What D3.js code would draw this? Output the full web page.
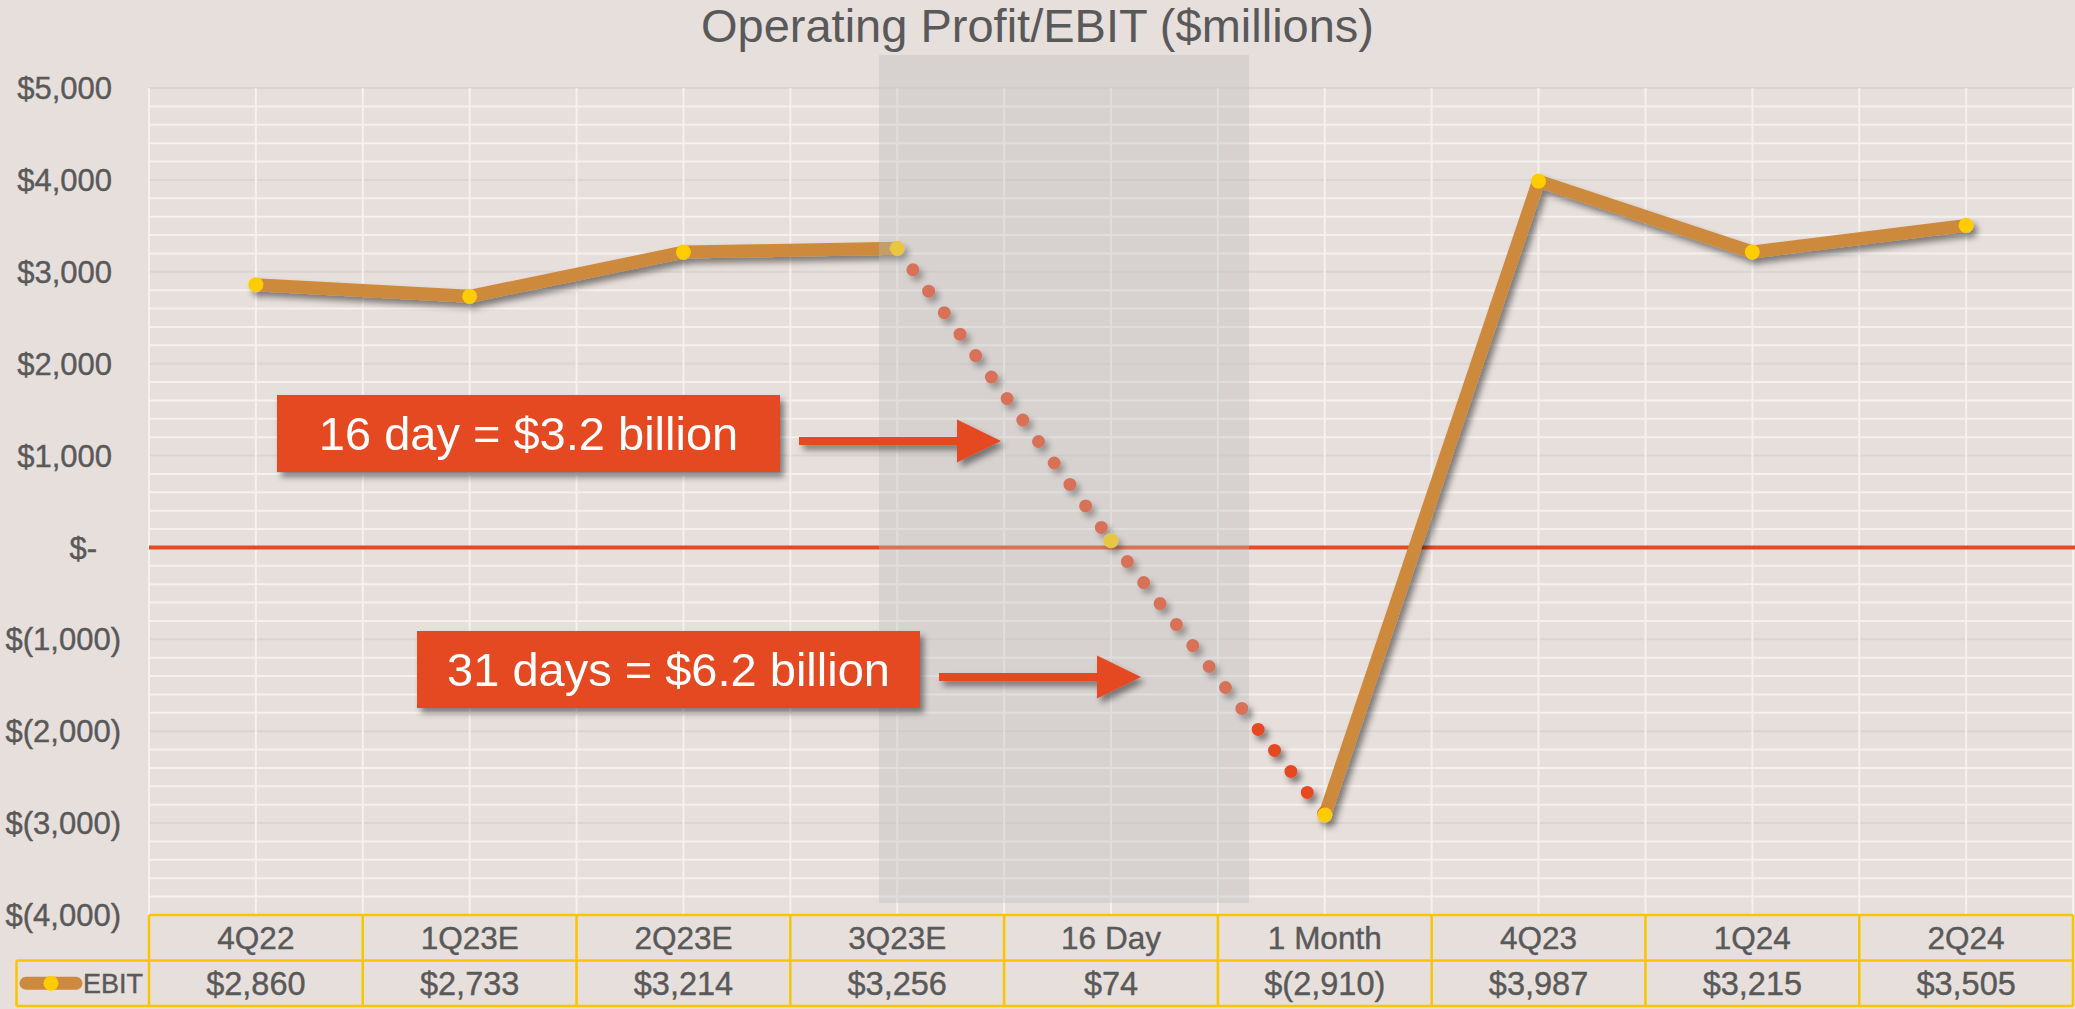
<!DOCTYPE html>
<html>
<head>
<meta charset="utf-8">
<script src="https://cdn.jsdelivr.net/npm/d3@7"></script>
<style>
  html, body { margin: 0; padding: 0; background: #e6dfdc; }
  svg { display: block; font-family: "Liberation Sans", Arial, sans-serif; }
</style>
</head>
<body>
<svg id="chart" width="2075" height="1009"></svg>
<script>
// chart values
var categories = ['4Q22', '1Q23E', '2Q23E', '3Q23E', '16 Day', '1 Month', '4Q23', '1Q24', '2Q24'];
var ebit = [2860, 2733, 3214, 3256, 74, -2910, 3987, 3215, 3505];
var seriesName = 'EBIT';
var yTickValues = [5000, 4000, 3000, 2000, 1000, 0, -1000, -2000, -3000, -4000];
// index ranges of the drawn pieces: solid, projected (dotted), solid
var solidRuns = [[0, 3], [5, 8]];
var dottedRuns = [[3, 4], [4, 5]];
var notes = ['16 day = $3.2 billion', '31 days = $6.2 billion'];

var W = 2075, H = 1009;
var plot = { left: 149, right: 2073, top: 88, bottom: 915 };
var rowH = 45.5;

var svg = d3.select('#chart');
var points = categories.map(function (c, i) { return { cat: c, v: ebit[i] }; });

var x = d3.scaleBand().domain(categories).range([plot.left, plot.right]).padding(0);
var y = d3.scaleLinear().domain([-4000, 5000]).range([plot.bottom, plot.top]);
var bw = x.bandwidth();
var cx = function (d) { return x(d.cat) + bw / 2; };

var money = function (v) {
    if (v === 0) { return '$-'; }
    var s = d3.format(',')(Math.abs(v));
    return v < 0 ? '$(' + s + ')' : '$' + s;
};

// shadow filter
var defs = svg.append('defs');
defs.append('filter')
    .attr('id', 'shadow')
    .attr('x', '-20%').attr('y', '-20%')
    .attr('width', '140%').attr('height', '140%')
    .append('feDropShadow')
    .attr('dx', 4).attr('dy', 5)
    .attr('stdDeviation', 3)
    .attr('flood-color', '#000')
    .attr('flood-opacity', 0.45);

svg.append('rect')
    .attr('width', W).attr('height', H)
    .style('fill', '#e6dfdc');

// grid
var grid = svg.append('g').classed('grid', true);
var minor = d3.range(-4000, 5001, 200).filter(function (v) { return v % 1000 !== 0; });
grid.selectAll('line.minor')
    .data(minor)
    .enter().append('line')
    .attr('x1', plot.left).attr('x2', plot.right)
    .attr('y1', y).attr('y2', y)
    .style('stroke', '#f4f1ef')
    .style('stroke-width', 2);

grid.selectAll('line.major')
    .data(yTickValues)
    .enter().append('line')
    .attr('x1', plot.left).attr('x2', plot.right)
    .attr('y1', y).attr('y2', y)
    .style('stroke', '#d9d5d3')
    .style('stroke-width', 2);

var vlines = [];
categories.forEach(function (c) { vlines.push(x(c), x(c) + bw / 2); });
vlines.push(plot.right);
grid.selectAll('line.v')
    .data(vlines)
    .enter().append('line')
    .attr('x1', function (d) { return d; }).attr('x2', function (d) { return d; })
    .attr('y1', plot.top).attr('y2', plot.bottom)
    .style('stroke', '#f4f1ef')
    .style('stroke-width', 2);

// zero line
svg.append('line')
    .attr('x1', plot.left).attr('x2', W)
    .attr('y1', y(0)).attr('y2', y(0))
    .style('stroke', '#e64a22')
    .style('stroke-width', 4);

// series
var line = d3.line().x(cx).y(function (d) { return y(d.v); });
var series = svg.append('g').attr('filter', 'url(#shadow)');

solidRuns.forEach(function (r) {
    series.append('path')
        .attr('d', line(points.slice(r[0], r[1] + 1)))
        .style('fill', 'none')
        .style('stroke', '#cd8a3e')
        .style('stroke-width', 13)
        .style('stroke-linejoin', 'round');
});

dottedRuns.forEach(function (r) {
    series.append('path')
        .attr('d', line(points.slice(r[0], r[1] + 1)))
        .style('fill', 'none')
        .style('stroke', '#e64a22')
        .style('stroke-width', 13)
        .style('stroke-linecap', 'round')
        .style('stroke-dasharray', '0 26.6');
});

series.selectAll('circle')
    .data(points)
    .enter().append('circle')
    .attr('cx', cx)
    .attr('cy', function (d) { return y(d.v); })
    .attr('r', 7.5)
    .style('fill', '#ffcc00');

// shaded window over the projected months
svg.append('rect')
    .attr('x', 879).attr('y', 55)
    .attr('width', 370).attr('height', 848)
    .style('fill', '#bcbcbc')
    .style('fill-opacity', 0.36);

// call-out boxes and arrows
var callouts = [
    { text: notes[0], x: 277, y: 395, w: 503, h: 77, ax1: 799, ax2: 1001, ay: 441 },
    { text: notes[1], x: 417, y: 631, w: 503, h: 77, ax1: 939, ax2: 1141, ay: 677 }
];
var ann = svg.append('g');
callouts.forEach(function (c) {
    var g = ann.append('g').attr('filter', 'url(#shadow)');
    g.append('rect')
        .attr('x', c.x).attr('y', c.y)
        .attr('width', c.w).attr('height', c.h)
        .style('fill', '#e54922');
    g.append('text')
        .attr('x', c.x + c.w / 2).attr('y', c.y + c.h / 2)
        .attr('dy', '0.36em')
        .attr('text-anchor', 'middle')
        .style('font-size', '47px')
        .style('fill', '#fff')
        .text(c.text);
    var head = 44, half = 21.5, t = 4;
    g.append('path')
        .attr('d', 'M' + c.ax1 + ',' + (c.ay - t) +
            'L' + (c.ax2 - head) + ',' + (c.ay - t) +
            'L' + (c.ax2 - head) + ',' + (c.ay - half) +
            'L' + c.ax2 + ',' + c.ay +
            'L' + (c.ax2 - head) + ',' + (c.ay + half) +
            'L' + (c.ax2 - head) + ',' + (c.ay + t) +
            'L' + c.ax1 + ',' + (c.ay + t) + 'Z')
        .style('fill', '#e54922');
});

// y axis labels (accounting style alignment)
svg.append('g').selectAll('text')
    .data(yTickValues)
    .enter().append('text')
    .attr('x', function (d) { return d < 0 ? 121 : (d === 0 ? 97 : 112); })
    .attr('y', y)
    .attr('dy', '0.36em')
    .attr('text-anchor', 'end')
    .style('font-size', '31px')
    .style('fill', '#595959')
    .style('stroke', '#595959')
    .style('stroke-width', 0.4)
    .text(money);

// data table
var table = svg.append('g');
var gold = '#f7c600';
var r1 = plot.bottom, r2 = r1 + rowH, r3 = r2 + rowH;
table.selectAll('text.cat')
    .data(points)
    .enter().append('text')
    .attr('x', cx).attr('y', r1 + rowH / 2)
    .attr('dy', '0.36em')
    .attr('text-anchor', 'middle')
    .style('font-size', '31.5px')
    .style('fill', '#595959')
    .style('stroke', '#595959')
    .style('stroke-width', 0.4)
    .text(function (d) { return d.cat; });
table.selectAll('text.val')
    .data(points)
    .enter().append('text')
    .attr('x', cx).attr('y', r2 + rowH / 2)
    .attr('dy', '0.36em')
    .attr('text-anchor', 'middle')
    .style('font-size', '32.5px')
    .style('fill', '#595959')
    .style('stroke', '#595959')
    .style('stroke-width', 0.4)
    .text(function (d) { return money(d.v); });

var border = function (x1, y1, x2, y2) {
    table.append('line')
        .attr('x1', x1).attr('y1', y1).attr('x2', x2).attr('y2', y2)
        .style('stroke', gold).style('stroke-width', 2.5);
};
border(plot.left, r1, plot.right, r1);
border(16.5, r2, plot.right, r2);
border(16.5, r3, plot.right, r3);
border(16.5, r2, 16.5, r3);
vlines.filter(function (d, i) { return i % 2 === 0 || d === plot.right; })
    .forEach(function (xx) { border(xx, r1, xx, r3); });

// legend key in the table
var ly = r2 + rowH / 2;
table.append('line')
    .attr('x1', 26).attr('x2', 76).attr('y1', ly).attr('y2', ly)
    .style('stroke', '#cd8a3e').style('stroke-width', 13)
    .style('stroke-linecap', 'round');
table.append('circle')
    .attr('cx', 51).attr('cy', ly).attr('r', 7.5)
    .style('fill', '#ffcc00');
table.append('text')
    .attr('x', 143).attr('y', ly)
    .attr('dy', '0.36em')
    .attr('text-anchor', 'end')
    .style('font-size', '27px')
    .style('fill', '#595959')
    .style('stroke', '#595959')
    .style('stroke-width', 0.4)
    .text(seriesName);

// title
svg.append('text')
    .attr('x', W / 2).attr('y', 42)
    .attr('text-anchor', 'middle')
    .style('font-size', '47px')
    .style('fill', '#595959')
    .text('Operating Profit/EBIT ($millions)');
</script>
</body>
</html>
